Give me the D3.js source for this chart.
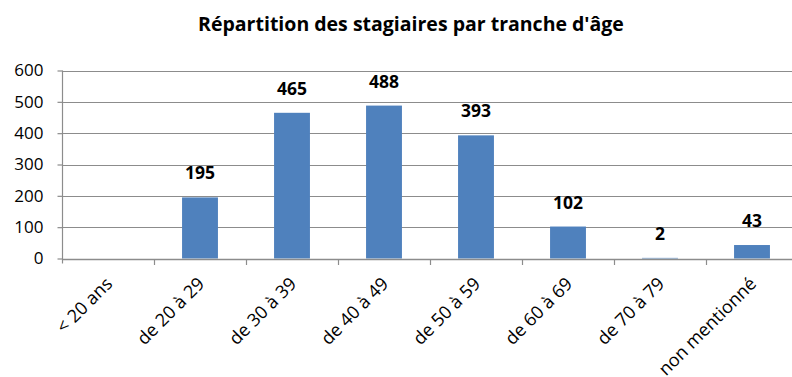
<!DOCTYPE html>
<html>
<head>
<meta charset="utf-8">
<script src="https://cdn.jsdelivr.net/npm/d3@7/dist/d3.min.js"></script>
<style>
  html, body { margin: 0; padding: 0; background: #fff; }
  svg { display: block; font-family: "Open Sans", sans-serif; }
</style>
</head>
<body>
<div id="chart"></div>
<script>
// Age brackets and trainee counts
const categories = ["< 20 ans", "de 20 à 29", "de 30 à 39", "de 40 à 49", "de 50 à 59", "de 60 à 69", "de 70 à 79", "non mentionné"];
const counts = [null, 195, 465, 488, 393, 102, 2, 43];
const yTicks = [0, 100, 200, 300, 400, 500, 600];
const title = "Répartition des stagiaires par tranche d'âge";

const W = 792, H = 377;
const margin = { left: 62, top: 70.5, bottom: 258.5 };

const svg = d3.select("#chart").append("svg")
  .attr("width", W).attr("height", H);

const x = d3.scaleBand()
  .domain(categories)
  .range([margin.left, margin.left + 8 * 92])
  .paddingInner(0.61)
  .paddingOuter(0.305);

const y = d3.scaleLinear()
  .domain([0, 600])
  .range([margin.bottom, margin.top]);

// Title
svg.append("text")
  .attr("x", 411).attr("y", 31)
  .attr("text-anchor", "middle")
  .attr("font-weight", "bold")
  .attr("font-size", 19.5)
  .attr("fill", "#000")
  .text(title);

// Horizontal gridlines
svg.append("g")
  .selectAll("line")
  .data(yTicks.filter(d => d > 0))
  .join("line")
  .attr("x1", margin.left).attr("x2", W)
  .attr("y1", d => Math.round(y(d)) + 0.5).attr("y2", d => Math.round(y(d)) + 0.5)
  .attr("stroke", "#8c8c8c").attr("stroke-width", 1.2);

// Bars
svg.append("g")
  .selectAll("rect")
  .data(categories.map((c, i) => ({ c, v: counts[i] })).filter(d => d.v != null))
  .join("rect")
  .attr("x", d => x(d.c))
  .attr("width", x.bandwidth())
  .attr("y", d => y(d.v))
  .attr("height", d => y(0) - y(d.v))
  .attr("fill", "#4F81BD");

// Value labels
svg.append("g")
  .selectAll("text")
  .data(categories.map((c, i) => ({ c, v: counts[i] })).filter(d => d.v != null))
  .join("text")
  .attr("x", d => x(d.c) + x.bandwidth() / 2)
  .attr("y", d => y(d.v) - 18)
  .attr("text-anchor", "middle")
  .attr("font-weight", "bold")
  .attr("font-size", 17.5)
  .attr("fill", "#000")
  .text(d => d.v);

// Y axis
const yAxis = svg.append("g")
  .attr("transform", `translate(${margin.left + 0.5},0)`)
  .call(d3.axisLeft(y).tickValues(yTicks).tickSize(5).tickPadding(14));
yAxis.select(".domain").attr("stroke", "#8c8c8c").attr("stroke-width", 1.2)
  .attr("d", `M0,${margin.top}V${margin.bottom + 5}`);
yAxis.selectAll(".tick line").attr("stroke", "#8c8c8c").attr("stroke-width", 1.2);
yAxis.selectAll(".tick text").attr("font-size", 17).attr("fill", "#000")
  .attr("font-family", "'Open Sans', sans-serif");

// X axis baseline and category boundary ticks
const bounds = d3.range(9).map(i => margin.left + i * x.step());
svg.append("line")
  .attr("x1", margin.left).attr("x2", W)
  .attr("y1", Math.round(y(0)) + 0.5).attr("y2", Math.round(y(0)) + 0.5)
  .attr("stroke", "#8c8c8c").attr("stroke-width", 1.4);
svg.append("g")
  .selectAll("line")
  .data(bounds.slice(1))
  .join("line")
  .attr("x1", d => Math.round(d) + 0.5).attr("x2", d => Math.round(d) + 0.5)
  .attr("y1", Math.round(y(0))).attr("y2", Math.round(y(0)) + 6)
  .attr("stroke", "#8c8c8c").attr("stroke-width", 1.2);

// Rotated category labels
svg.append("g")
  .selectAll("text")
  .data(categories)
  .join("text")
  .attr("transform", d => `translate(${x(d) + x.bandwidth() / 2 + 1},${y(0) + 22}) rotate(-45)`)
  .attr("text-anchor", "end")
  .attr("dy", "0.35em")
  .attr("font-size", 18)
  .attr("fill", "#000")
  .text(d => d);
</script>
</body>
</html>
